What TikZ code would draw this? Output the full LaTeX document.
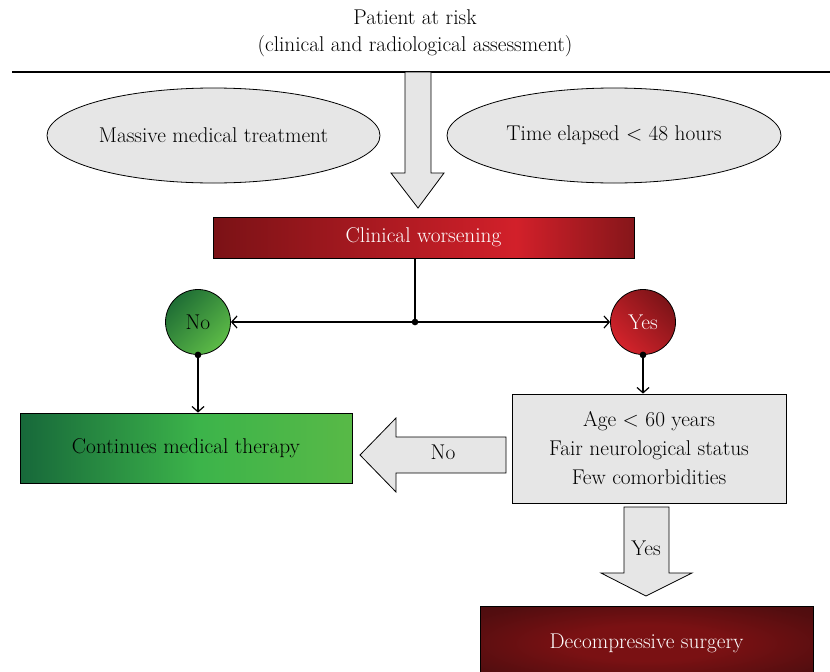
\documentclass[tikz,border=0pt]{standalone}
\usepackage{fontspec}
\usetikzlibrary{arrows.meta,shapes.geometric}
\definecolor{marble}{HTML}{E6E6E6}
\definecolor{cwdark}{HTML}{7B1216}
\definecolor{cwred}{HTML}{D2202A}
\definecolor{cwright}{HTML}{86161A}
\definecolor{gdark}{HTML}{17683A}
\definecolor{gmid}{HTML}{3CB44A}
\definecolor{glight}{HTML}{58B947}
\definecolor{ndark}{HTML}{1F6E35}
\definecolor{nlight}{HTML}{5DBB47}
\definecolor{ydark}{HTML}{7D1418}
\definecolor{ylight}{HTML}{D3232B}
\definecolor{sinner}{HTML}{7A1113}
\definecolor{souter}{HTML}{3A0B0D}
\pgfdeclarehorizontalshading{cwshade}{100bp}{color(0bp)=(cwdark); color(25bp)=(cwdark); color(61bp)=(cwred); color(75bp)=(cwright); color(100bp)=(cwright)}
\pgfdeclarehorizontalshading{gshade}{100bp}{color(0bp)=(gdark); color(25bp)=(gdark); color(52bp)=(gmid); color(75bp)=(glight); color(100bp)=(glight)}
\pgfdeclareradialshading{sshade}{\pgfpoint{0bp}{0bp}}{color(0bp)=(sinner); color(12bp)=(sinner); color(30bp)=(souter!60!sinner); color(50bp)=(souter)}
\begin{document}
\begin{tikzpicture}[x=0.75pt,y=-0.75pt,
  txt/.style={font=\fontsize{16}{18}\selectfont},
  marblebox/.style={draw=black, line width=0.6pt, fill=marble},
  bigarrow/.style={draw=black, line width=0.6pt, fill=marble, line join=miter},
  conn/.style={line width=0.9pt, -{Straight Barb[length=4pt,width=9pt]}},
  dot/.style={circle, fill=black, inner sep=0pt, minimum size=5pt}]
\useasboundingbox (0,0) rectangle (830,671);
\clip (0,0) rectangle (830,671);

\node[txt] (risk) at (415,17) {Patient at risk};
\node[txt] (assess) at (415,46) {(clinical and radiological assessment)};
\coordinate (lineL) at (12,72);
\coordinate (lineR) at (830,72);
\draw[line width=1pt] (lineL) -- (lineR);

% top big arrow
\draw[bigarrow] (405,72) -- (405,173) -- (391,173) -- (418,208) -- (444,173) -- (431,173) -- (431,72) -- cycle;

\node[ellipse, marblebox, minimum width=249.75pt, minimum height=71.25pt, inner sep=0pt, txt] (mmt) at (213.5,135.5) {Massive medical treatment};
\node[ellipse, marblebox, minimum width=250.5pt, minimum height=71.25pt, inner sep=0pt, txt] (time) at (614,135.5) {Time elapsed < 48 hours};

\node[draw=black, line width=0.6pt, shading=cwshade, minimum width=315.75pt, minimum height=30.75pt, inner sep=0pt, txt, text=white] (cw) at (423.5,237.5) {Clinical worsening};

\coordinate (j) at (415,322);
\node[circle, draw=black, line width=0.6pt, top color=ndark, bottom color=nlight, shading angle=45, minimum size=48.75pt, inner sep=0pt, txt] (no) at (198,322) {No};
\node[circle, draw=black, line width=0.6pt, top color=ydark, bottom color=ylight, shading angle=-45, minimum size=48.75pt, inner sep=0pt, txt, text=white] (yes) at (643,322) {Yes};

\draw[line width=0.9pt] (j |- cw.south) -- (j);
\draw[conn] (j) -- (no.east);
\draw[conn] (j) -- (yes.west);
\node[dot] (jd) at (j) {};

\node[draw=black, line width=0.6pt, shading=gshade, minimum width=249pt, minimum height=52.5pt, inner sep=0pt, txt] (cmt) at (186,448) {Continues medical therapy};
\node[marblebox, minimum width=205.5pt, minimum height=81.75pt, inner sep=0pt, align=center, font=\fontsize{16}{21.75}\selectfont] (crit) at (649,448.5) {Age < 60 years\\Fair neurological status\\Few comorbidities};

\node[dot] (nod) at (no.south) {};
\node[dot] (yesd) at (yes.south) {};
\draw[conn] (no.south) -- (no.south |- cmt.north);
\draw[conn] (yes.south) -- (yes.south |- crit.north);

% No big arrow
\draw[bigarrow] (506,437) -- (396,437) -- (396,418) -- (360,455) -- (396,492) -- (396,473) -- (506,473) -- cycle;
\node[txt] (nolabel) at (443,452) {No};

% Yes big arrow
\draw[bigarrow] (624,507) -- (624,573) -- (601,573) -- (646,596) -- (692,573) -- (669,573) -- (669,507) -- cycle;
\node[txt] (yeslabel) at (646,548) {Yes};

\node[draw=black, line width=0.6pt, shading=sshade, minimum width=249.75pt, minimum height=55.5pt, inner sep=0pt, txt, text=white] (surg) at (646.5,643) {Decompressive surgery};
\end{tikzpicture}
\end{document}
